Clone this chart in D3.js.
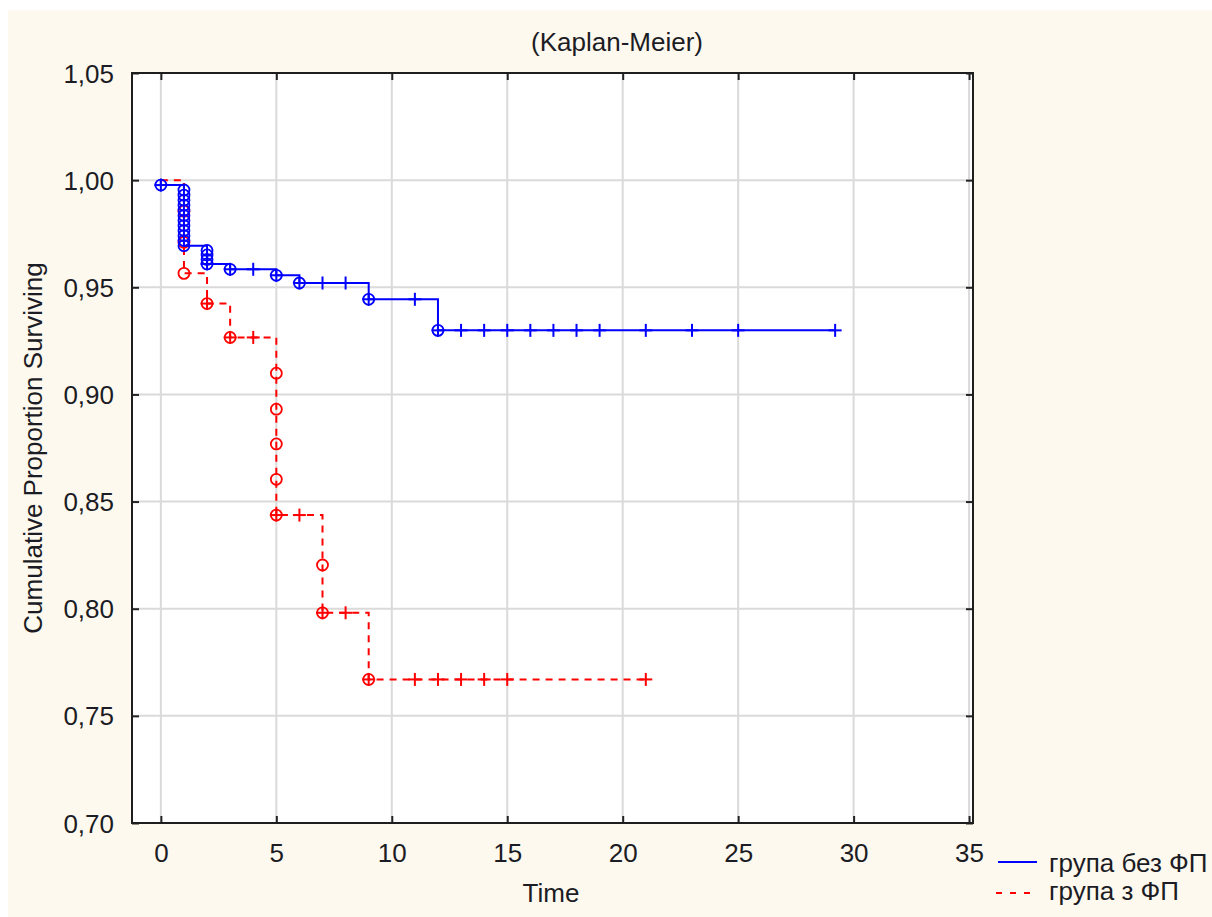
<!DOCTYPE html>
<html><head><meta charset="utf-8">
<script src="https://cdn.jsdelivr.net/npm/d3@7"></script>
<style>
html,body{margin:0;padding:0;background:#fff;}
svg{display:block;}
text{font-family:"Liberation Sans",Arial,sans-serif;fill:#1c1c24;}
</style></head><body>
<svg id="chart" width="1212" height="917"></svg>
<script>
const title = "(Kaplan-Meier)";
const xLabel = "Time";
const yLabel = "Cumulative Proportion Surviving";
const seriesNames = ["група без ФП", "група з ФП"];
const xTicks = [0,5,10,15,20,25,30,35];
const xTickLabels = ["0","5","10","15","20","25","30","35"];
const yTicks = [0.70,0.75,0.80,0.85,0.90,0.95,1.00,1.05];
const yTickLabels = ["0,70","0,75","0,80","0,85","0,90","0,95","1,00","1,05"];

// група без ФП (blue): complete events (time, survival after event) and censored times
const blueEventTimes = [0,1,1,1,1,1,1,1,1,1,1,1,1,2,2,2,2,3,5,6,9,12];
const blueEventSurv  = [0.9977,0.9954,0.9930,0.9906,0.9883,0.9859,0.9835,0.9812,0.9788,0.9765,0.9741,0.9718,0.9694,0.9672,0.9651,0.9630,0.9609,0.9584,0.9556,0.9520,0.9444,0.9299];
const blueCensorTimes = [0,2,3,4,5,6,7,8,9,11,12,13,14,15,16,17,18,19,21,23,25,29.2];

// група з ФП (red)
const redEventTimes = [1,1,1,2,3,5,5,5,5,5,7,7,9];
const redEventSurv  = [0.9855,0.9710,0.9565,0.9424,0.9266,0.9099,0.8931,0.8769,0.8604,0.8437,0.8204,0.7981,0.7670];
const redCensorTimes = [2,3,4,5,6,7,8,9,11,12,13,14,15,21];

const svg = d3.select("#chart");
const FS = 26;
const L = 132, R = 973, T = 73, B = 823;

svg.append("rect").attr("x",8).attr("y",10).attr("width",1204).attr("height",907).attr("fill","#fef9ef");
svg.append("rect").attr("x",L).attr("y",T).attr("width",R-L).attr("height",B-T).attr("fill","#fff");

const x = d3.scaleLinear().domain([-1.25, 35.17]).range([L, R]);
const y = d3.scaleLinear().domain([0.70, 1.05]).range([B, T]);

// grid
const g = svg.append("g");
g.selectAll("line.gx").data(xTicks).join("line")
  .attr("x1", d => x(d)).attr("x2", d => x(d)).attr("y1", T).attr("y2", B)
  .attr("stroke", "#dadada").attr("stroke-width", 2);
g.selectAll("line.gy").data(yTicks).join("line")
  .attr("y1", d => y(d)).attr("y2", d => y(d)).attr("x1", L).attr("x2", R)
  .attr("stroke", "#dadada").attr("stroke-width", 2);

// axes (inward ticks)
const ax = svg.append("g").attr("transform", `translate(0,${B})`)
  .call(d3.axisBottom(x).tickValues(xTicks).tickSize(-7).tickFormat((d,i) => xTickLabels[i]));
ax.select(".domain").remove();
ax.selectAll("line").attr("stroke", "#222").attr("stroke-width", 2);
ax.selectAll("text").attr("y", 39).attr("dy", 0).attr("font-size", FS).attr("fill", "#1c1c24")
  .style("font-family", "'Liberation Sans',Arial,sans-serif");

const axT = svg.append("g").attr("transform", `translate(0,${T})`)
  .call(d3.axisTop(x).tickValues(xTicks).tickSize(-7).tickFormat(""));
axT.select(".domain").remove();
axT.selectAll("line").attr("stroke", "#222").attr("stroke-width", 2);

const ay = svg.append("g").attr("transform", `translate(${L},0)`)
  .call(d3.axisLeft(y).tickValues(yTicks).tickSize(-7).tickFormat((d,i) => yTickLabels[i]));
ay.select(".domain").remove();
ay.selectAll("line").attr("stroke", "#222").attr("stroke-width", 2);
ay.selectAll("text").attr("x", -18).attr("dy", "0.35em").attr("font-size", FS).attr("fill", "#1c1c24")
  .style("font-family", "'Liberation Sans',Arial,sans-serif");

const ayR = svg.append("g").attr("transform", `translate(${R},0)`)
  .call(d3.axisRight(y).tickValues(yTicks).tickSize(-7).tickFormat(""));
ayR.select(".domain").remove();
ayR.selectAll("line").attr("stroke", "#222").attr("stroke-width", 2);

// frame
svg.append("rect").attr("x",L).attr("y",T).attr("width",R-L).attr("height",B-T)
  .attr("fill","none").attr("stroke","#1e1e1e").attr("stroke-width",2);

// labels
svg.append("text").attr("x", 617).attr("y", 51).attr("text-anchor","middle").attr("font-size", FS).text(title);
svg.append("text").attr("x", 551).attr("y", 902).attr("text-anchor","middle").attr("font-size", FS).text(xLabel);
svg.append("text").attr("transform","translate(42,448) rotate(-90)").attr("text-anchor","middle").attr("font-size", FS).text(yLabel);

function drawSeries(times, surv, censor, color, dash) {
  const lastT = d3.max(censor.concat(times));
  const pts = [[0, 1.0]];
  let cur = 1.0;
  times.forEach((t, i) => { pts.push([t, cur]); pts.push([t, surv[i]]); cur = surv[i]; });
  pts.push([lastT, cur]);
  const line = d3.line().x(d => x(d[0])).y(d => y(d[1]));
  const grp = svg.append("g");
  grp.append("path").attr("d", line(pts)).attr("fill","none").attr("stroke", color)
    .attr("stroke-width", 2).attr("stroke-dasharray", dash);
  grp.selectAll("circle").data(times.map((t,i)=>[t,surv[i]])).join("circle")
    .attr("cx", d => x(d[0])).attr("cy", d => y(d[1])).attr("r", 5.5)
    .attr("fill","none").attr("stroke", color).attr("stroke-width", 1.8);
  const level = t => { let s = 1.0; times.forEach((tt,i)=>{ if (tt <= t) s = surv[i]; }); return s; };
  const cg = grp.selectAll("g.c").data(censor).join("g")
    .attr("transform", d => `translate(${x(d)},${y(level(d))})`);
  cg.append("line").attr("x1",-6.5).attr("x2",6.5).attr("stroke", color).attr("stroke-width",2);
  cg.append("line").attr("y1",-6.5).attr("y2",6.5).attr("stroke", color).attr("stroke-width",2);
}
drawSeries(redEventTimes, redEventSurv, redCensorTimes, "#ff0000", "7,6");
drawSeries(blueEventTimes, blueEventSurv, blueCensorTimes, "#0000ff", null);

// legend
const lg = svg.append("g");
lg.append("line").attr("x1",998).attr("x2",1037).attr("y1",862).attr("y2",862).attr("stroke","#0000ff").attr("stroke-width",2);
lg.append("line").attr("x1",996).attr("x2",1034).attr("y1",893).attr("y2",893).attr("stroke","#ff0000").attr("stroke-width",2).attr("stroke-dasharray","6,8");
lg.append("text").attr("x",1049).attr("y",872).attr("font-size",FS).text(seriesNames[0]);
lg.append("text").attr("x",1049).attr("y",900).attr("font-size",FS).text(seriesNames[1]);
</script>
</body></html>
